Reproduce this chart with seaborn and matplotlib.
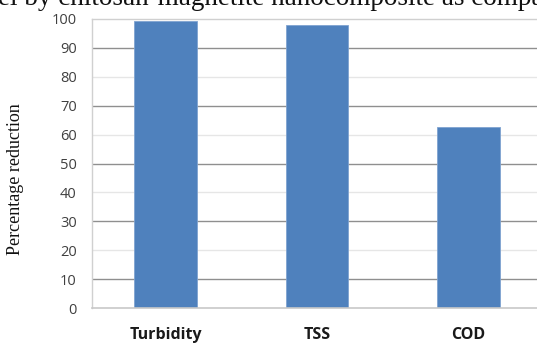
import matplotlib
matplotlib.use("Agg")
import matplotlib.pyplot as plt
import seaborn as sns
import pandas as pd

# Pollutant removal by the nanocomposite (percentage reduction)
parameters = ["Turbidity", "TSS", "COD"]
reduction = [99.3, 97.9, 62.8]
y_ticks = [0, 10, 20, 30, 40, 50, 60, 70, 80, 90, 100]

df = pd.DataFrame({"parameter": parameters, "reduction": reduction})

sns.set_theme(style="white")
plt.rcParams["font.family"] = ["Open Sans", "DejaVu Sans"]

fig = plt.figure(figsize=(5.37, 3.43), dpi=100)
ax = fig.add_axes([92 / 537, 35 / 343, 450 / 537, 289 / 343])

# Alternating gridline shades
for v in y_ticks[1:-1]:
    shade = "#8f8f8f" if v % 20 == 10 else "#e6e6e6"
    ax.axhline(v, color=shade, lw=1.0, zorder=0)

sns.barplot(data=df, x="parameter", y="reduction", color="#4f81bd",
            width=0.41, saturation=1, edgecolor="#7fa3d0", linewidth=0.6,
            ax=ax, zorder=2)

ax.set_ylim(0, 100)
ax.set_xlim(-0.485, 2.485)
ax.set_yticks(y_ticks)
ax.set_yticklabels([str(v) for v in y_ticks], fontsize=10.5, color="#404040")
ax.set_xticks(range(len(parameters)))
ax.set_xticklabels(parameters, fontsize=11.5, fontweight="bold", color="#1a1a1a")
ax.tick_params(axis="y", length=0, pad=11)
ax.tick_params(axis="x", length=0, pad=14)
ax.set_xlabel("")
ax.set_ylabel("")

for side in ["left", "top", "right"]:
    ax.spines[side].set_color("#d0d0d0")
    ax.spines[side].set_linewidth(1.0)
ax.spines["bottom"].set_color("#c8c8c8")
ax.spines["bottom"].set_linewidth(1.2)

fig.text(16 / 537, 1 - 179 / 343, "Percentage reduction", rotation=90,
         ha="center", va="center", fontsize=13,
         family=["Liberation Serif", "DejaVu Serif"], color="#111111")

fig.text(-2 / 537, 1 - 5 / 343, "el by chitosan-magnetite nanocomposite as compa",
         ha="left", va="baseline", fontsize=19.5,
         family=["Liberation Serif", "DejaVu Serif"], color="#111111")

fig.savefig("out.png", dpi=100)
